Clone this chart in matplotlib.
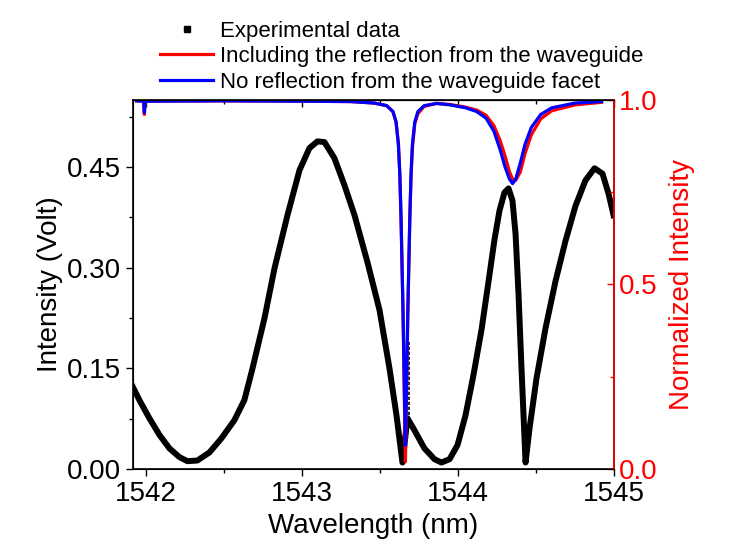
import numpy as np
import matplotlib
matplotlib.use("Agg")
from matplotlib import pyplot as plt
from matplotlib.lines import Line2D
from matplotlib.ticker import MultipleLocator, FormatStrFormatter

plt.rcParams['font.family'] = ['Liberation Sans', 'DejaVu Sans']

# experimental trace (left axis, Volt)
exp_wl = [1541.913, 1541.958, 1542.022, 1542.087, 1542.151, 1542.215, 1542.266, 1542.330,
          1542.407, 1542.484, 1542.567, 1542.631, 1542.683, 1542.760, 1542.824, 1542.907,
          1542.984, 1543.048, 1543.099, 1543.144, 1543.208, 1543.272, 1543.337, 1543.420,
          1543.497, 1543.561, 1543.606, 1543.644,
          1543.676, 1543.721, 1543.785, 1543.849, 1543.894, 1543.946, 1543.997, 1544.048,
          1544.099, 1544.151, 1544.196, 1544.234, 1544.266, 1544.298, 1544.324, 1544.349,
          1544.369, 1544.388, 1544.407, 1544.433, 1544.458, 1544.503, 1544.561, 1544.625,
          1544.689, 1544.753, 1544.817, 1544.875, 1544.926, 1544.965, 1544.997]
exp_v = [0.124, 0.103, 0.076, 0.051, 0.031, 0.018, 0.012, 0.013,
         0.025, 0.046, 0.073, 0.103, 0.150, 0.225, 0.299, 0.378,
         0.445, 0.478, 0.488, 0.487, 0.463, 0.423, 0.378, 0.308,
         0.237, 0.150, 0.080, 0.010,
         0.076, 0.058, 0.031, 0.015, 0.010, 0.015, 0.036, 0.080,
         0.140, 0.208, 0.280, 0.342, 0.385, 0.412, 0.418, 0.400,
         0.350, 0.260, 0.150, 0.010, 0.060, 0.135, 0.210, 0.280,
         0.340, 0.392, 0.430, 0.448, 0.440, 0.410, 0.378]
# short noisy segment right after the sharp dip
spike_wl = [1543.683, 1543.683]
spike_v = [0.080, 0.190]

# simulated transmission (right axis, normalized)
sim_wl = [1541.94, 1541.985, 1541.99, 1541.995, 1542.5, 1543.0, 1543.313, 1543.463,
          1543.543, 1543.583, 1543.603, 1543.618, 1543.627, 1543.635, 1543.643, 1543.648,
          1543.655, 1543.663, 1543.671, 1543.678, 1543.683, 1543.691, 1543.699, 1543.708,
          1543.723, 1543.743, 1543.783, 1543.863, 1543.95, 1544.05, 1544.12, 1544.18,
          1544.23, 1544.27, 1544.30, 1544.33, 1544.35, 1544.37, 1544.40, 1544.43,
          1544.47, 1544.53, 1544.60, 1544.75, 1544.92]
no_refl = [0.997, 0.996, 0.965, 0.996, 0.997, 0.996, 0.995, 0.991,
           0.984, 0.968, 0.940, 0.880, 0.800, 0.680, 0.520, 0.420,
           0.250, 0.065, 0.250, 0.420, 0.520, 0.680, 0.800, 0.880,
           0.940, 0.968, 0.984, 0.990, 0.986, 0.978, 0.968, 0.950,
           0.915, 0.865, 0.820, 0.785, 0.773, 0.785, 0.830, 0.880,
           0.925, 0.960, 0.978, 0.991, 0.995]
with_refl = [0.997, 0.996, 0.960, 0.996, 0.997, 0.996, 0.995, 0.991,
             0.984, 0.968, 0.940, 0.880, 0.800, 0.680, 0.520, 0.420,
             0.220, 0.020, 0.220, 0.410, 0.510, 0.670, 0.790, 0.870,
             0.935, 0.962, 0.982, 0.990, 0.987, 0.980, 0.972, 0.958,
             0.930, 0.890, 0.850, 0.805, 0.785, 0.782, 0.805, 0.855,
             0.905, 0.948, 0.970, 0.986, 0.993]

fig = plt.figure(figsize=(7.47, 5.45), dpi=100)
ax = fig.add_axes([0.178, 0.139, 0.644, 0.678])

ax.plot(exp_wl, exp_v, color='black', lw=4.3, solid_joinstyle='round')
ax.plot(spike_wl, spike_v, color='black', lw=1.2, ls=(0, (2, 1)))
ax.set_xlim(1541.917, 1545.0)
ax.set_ylim(0, 0.55)
ax.xaxis.set_major_locator(MultipleLocator(1))
ax.xaxis.set_minor_locator(MultipleLocator(0.5))
ax.yaxis.set_major_locator(MultipleLocator(0.15))
ax.yaxis.set_minor_locator(MultipleLocator(0.075))
ax.yaxis.set_major_formatter(FormatStrFormatter('%.2f'))
ax.tick_params(which='both', direction='out', labelsize=20, width=1)
ax.tick_params(which='major', length=5)
ax.tick_params(which='minor', length=3)
ax.set_xlabel('Wavelength (nm)', fontsize=20, labelpad=4)
ax.set_ylabel('Intensity (Volt)', fontsize=20, labelpad=3)
for s in ax.spines.values():
    s.set_linewidth(1.2)

top = ax.secondary_xaxis('top')
top.xaxis.set_major_locator(MultipleLocator(1))
top.xaxis.set_minor_locator(MultipleLocator(0.5))
top.tick_params(which='both', direction='in', labeltop=False, width=1)
top.tick_params(which='major', length=5)
top.tick_params(which='minor', length=3)

ax2 = ax.twinx()
ax2.plot(sim_wl, with_refl, color='#ff0000', lw=2.3)
ax2.plot(sim_wl, no_refl, color='#0000ff', lw=2.3)
ax2.set_ylim(0, 1.0)
ax2.yaxis.set_major_locator(MultipleLocator(0.5))
ax2.yaxis.set_minor_locator(MultipleLocator(0.25))
ax2.yaxis.set_major_formatter(FormatStrFormatter('%.1f'))
ax2.tick_params(axis='y', which='both', direction='in', colors='red', labelsize=20, width=1)
ax2.tick_params(axis='y', which='major', length=5)
ax2.tick_params(axis='y', which='minor', length=3)
ax2.spines['right'].set_color('red')
ax2.spines['right'].set_linewidth(1.2)
ax2.set_ylabel('Normalized Intensity', fontsize=20, color='red', labelpad=8)

handles = [Line2D([], [], color='black', marker='s', ls='none', markersize=5),
           Line2D([], [], color='#ff0000', lw=2.3),
           Line2D([], [], color='#0000ff', lw=2.3)]
labels = ['Experimental data', 'Including the reflection from the waveguide',
          'No reflection from the waveguide facet']
fig.legend(handles, labels, loc='upper left', bbox_to_anchor=(0.214, 0.962),
           frameon=False, fontsize=16, handlelength=2.4, handletextpad=0.3,
           labelspacing=0.2, borderpad=0, borderaxespad=0)

fig.savefig('out.png', dpi=100)
